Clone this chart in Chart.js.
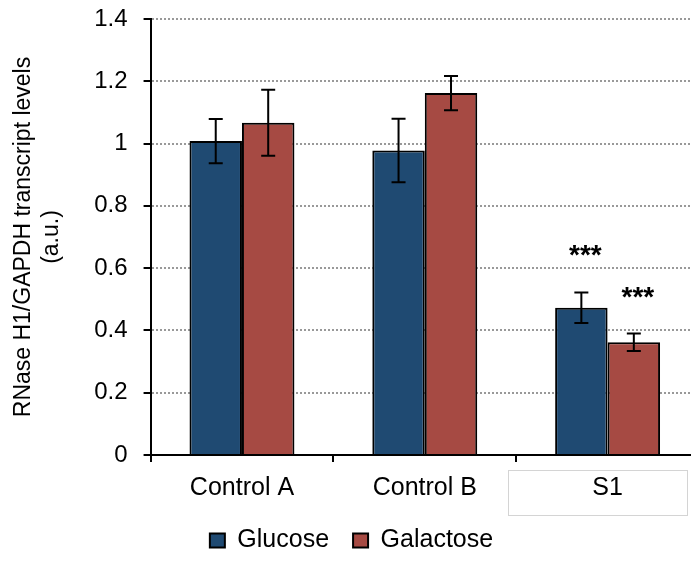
<!DOCTYPE html>
<html>
<head>
<meta charset="utf-8">
<script src="https://cdn.jsdelivr.net/npm/chart.js@4/dist/chart.umd.min.js"></script>
<style>
  html, body { margin: 0; padding: 0; background: #fff; overflow: hidden; }
  #wrap { width: 700px; height: 563px; }
</style>
</head>
<body>
<div id="wrap"><canvas id="chart" width="700" height="563"></canvas></div>
<script>
// Cell lines and growth conditions
const categories = ['Control A', 'Control B', 'S1'];
const seriesNames = ['Glucose', 'Galactose'];

// Mean RNase H1 / GAPDH transcript levels (a.u.)
const glucoseValues = [1.008, 0.978, 0.473];
const galactoseValues = [1.067, 1.162, 0.362];

// Error bar half-lengths
const glucoseErrors = [0.071, 0.102, 0.049];
const galactoseErrors = [0.106, 0.055, 0.028];

// Significance marks above the error bars
const glucoseSignif = ['', '', '***'];
const galactoseSignif = ['', '', '***'];

// y axis ticks
const yTicks = [0, 0.2, 0.4, 0.6, 0.8, 1, 1.2, 1.4];

const FONT = '"Liberation Sans", Arial, Helvetica, sans-serif';
Chart.defaults.font.family = FONT;
Chart.defaults.color = '#000';

const errorsByDataset = [glucoseErrors, galactoseErrors];
const signifByDataset = [glucoseSignif, galactoseSignif];

// Draws error bars and significance stars from the bar values
const errorBarPlugin = {
  id: 'errorBars',
  afterDatasetsDraw(chart) {
    const ctx = chart.ctx;
    const y = chart.scales.y;
    chart.data.datasets.forEach((ds, di) => {
      const meta = chart.getDatasetMeta(di);
      meta.data.forEach((bar, i) => {
        const v = ds.data[i];
        const e = errorsByDataset[di][i];
        const top = y.getPixelForValue(v + e);
        const bot = y.getPixelForValue(v - e);
        ctx.save();
        ctx.strokeStyle = '#000';
        ctx.lineWidth = 2;
        ctx.beginPath();
        ctx.moveTo(bar.x, top);
        ctx.lineTo(bar.x, bot);
        ctx.moveTo(bar.x - 7, top);
        ctx.lineTo(bar.x + 7, top);
        ctx.moveTo(bar.x - 7, bot);
        ctx.lineTo(bar.x + 7, bot);
        ctx.stroke();
        const s = signifByDataset[di][i];
        if (s) {
          ctx.fillStyle = '#000';
          ctx.font = 'bold 28px ' + FONT;
          ctx.textAlign = 'center';
          ctx.textBaseline = 'alphabetic';
          ctx.fillText(s, bar.x + 4, top - 28);
        }
        ctx.restore();
      });
    });
  },
  afterDraw(chart) {
    // light frame around the last category label
    const x = chart.scales.x;
    const cx = x.getPixelForValue(2);
    const ctx = chart.ctx;
    ctx.save();
    ctx.strokeStyle = '#d4d4d4';
    ctx.lineWidth = 1;
    ctx.strokeRect(Math.round(cx - 100) + 0.5, Math.round(x.top + 15) + 0.5, 179, 45);
    ctx.restore();
  }
};

new Chart(document.getElementById('chart'), {
  type: 'bar',
  data: {
    labels: categories,
    datasets: [
      {
        label: seriesNames[0],
        data: glucoseValues,
        backgroundColor: '#1f4a72',
        borderColor: '#000',
        borderWidth: 2
      },
      {
        label: seriesNames[1],
        data: galactoseValues,
        backgroundColor: '#a64a43',
        borderColor: '#000',
        borderWidth: 2
      }
    ]
  },
  options: {
    responsive: false,
    animation: false,
    devicePixelRatio: 1,
    categoryPercentage: 0.574,
    barPercentage: 1.0,
    layout: { padding: { left: 4, right: 1, top: 19, bottom: 0 } },
    plugins: {
      legend: {
        position: 'bottom',
        labels: {
          boxWidth: 15,
          boxHeight: 14,
          padding: 24,
          color: '#000',
          font: { size: 25 }
        }
      },
      tooltip: { enabled: false }
    },
    scales: {
      x: {
        type: 'category',
        offset: true,
        afterFit(scale) { scale.height = 49; },
        grid: {
          offset: true,
          drawOnChartArea: false,
          drawTicks: true,
          tickLength: 7,
          color: '#000',
          lineWidth: 2
        },
        border: { display: true, color: '#000', width: 2 },
        ticks: {
          color: '#000',
          padding: 11,
          maxRotation: 0,
          font: { size: 25 }
        }
      },
      y: {
        min: 0,
        max: 1.4,
        afterBuildTicks(scale) { scale.ticks = yTicks.map(v => ({ value: v })); },
        afterFit(scale) { scale.paddingTop = 0; scale.paddingBottom = 0; },
        grid: {
          color: ctx => (ctx.tick && ctx.tick.value === 0 ? 'rgba(0,0,0,0)' : '#999999'),
          lineWidth: 2,
          drawTicks: true,
          tickLength: 7,
          tickColor: '#000',
          tickWidth: 2,
          tickBorderDash: []
        },
        border: { display: true, color: '#000', width: 2, dash: [2, 2] },
        ticks: {
          color: '#000',
          padding: 16,
          font: { size: 24 },
          callback: v => String(Math.round(v * 10) / 10)
        },
        title: {
          display: true,
          text: ['RNase H1/GAPDH transcript levels', '(a.u.)'],
          color: '#000',
          font: { size: 23 },
          padding: { top: 6, bottom: 13 }
        }
      }
    }
  },
  plugins: [errorBarPlugin]
});
</script>
</body>
</html>
